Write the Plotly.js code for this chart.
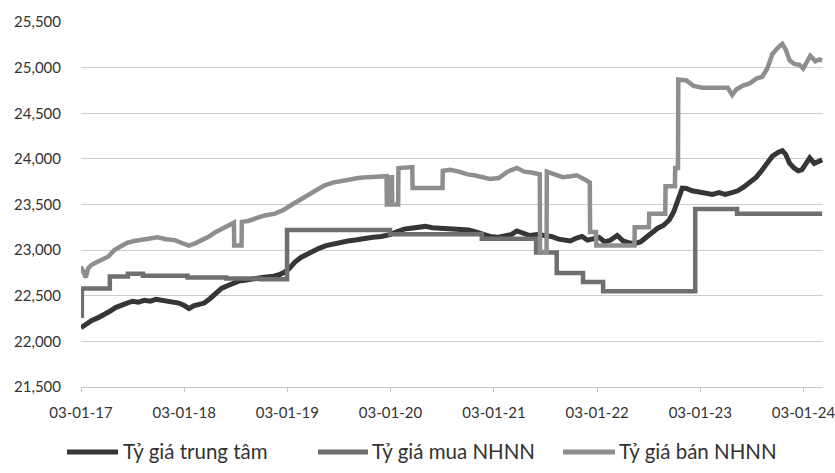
<!DOCTYPE html>
<html>
<head>
<meta charset="utf-8">
<script src="https://cdn.plot.ly/plotly-3.0.1.min.js"></script>
<style>
  html, body { margin: 0; padding: 0; background: #ffffff; }
  #chart { width: 835px; height: 473px; }
</style>
</head>
<body>
<div id="chart"></div>
<script>
// ---- Data ----
const seriesNames = ["Tỷ giá trung tâm", "Tỷ giá mua NHNN", "Tỷ giá bán NHNN"];

const xTickVals = ["2017-01-03", "2018-01-03", "2019-01-03", "2020-01-03", "2021-01-03", "2022-01-03", "2023-01-03", "2024-01-03"];
const xTickText = ["03-01-17", "03-01-18", "03-01-19", "03-01-20", "03-01-21", "03-01-22", "03-01-23", "03-01-24"];

const centralDates = [
  "2017-01-03","2017-01-20","2017-02-10","2017-03-05","2017-03-25","2017-04-15","2017-05-05","2017-05-25",
  "2017-06-15","2017-07-05","2017-07-25","2017-08-15","2017-09-05","2017-09-25","2017-10-15","2017-11-05",
  "2017-11-25","2017-12-15","2018-01-05","2018-01-20","2018-02-05","2018-02-25","2018-03-15","2018-04-05",
  "2018-04-25","2018-05-15","2018-06-05","2018-06-25","2018-07-15","2018-08-05","2018-08-25","2018-09-15",
  "2018-10-05","2018-10-25","2018-11-15","2018-12-05","2018-12-25","2019-01-10","2019-01-30","2019-02-20",
  "2019-03-10","2019-04-01","2019-04-25","2019-05-20","2019-06-15","2019-07-10","2019-08-05","2019-09-01",
  "2019-10-01","2019-11-01","2019-12-01","2020-01-01","2020-01-25","2020-02-20","2020-03-15","2020-04-10",
  "2020-05-05","2020-05-30","2020-06-25","2020-07-20","2020-08-15","2020-09-10","2020-10-05","2020-10-30",
  "2020-11-25","2020-12-20","2021-01-15","2021-02-10","2021-03-05","2021-03-25","2021-04-15","2021-05-10",
  "2021-06-05","2021-06-30","2021-07-25","2021-08-20","2021-09-10","2021-09-30","2021-10-20","2021-11-10",
  "2021-11-30","2021-12-20","2022-01-10","2022-01-30","2022-02-20","2022-03-15","2022-04-05","2022-04-25",
  "2022-05-15","2022-06-05","2022-06-25","2022-07-15","2022-08-05","2022-08-25","2022-09-15","2022-10-01",
  "2022-10-15","2022-10-31","2022-11-15","2022-12-05","2022-12-25","2023-01-20","2023-02-15","2023-03-10",
  "2023-04-01","2023-04-25","2023-05-15","2023-06-05","2023-06-28","2023-07-20","2023-08-05","2023-08-25",
  "2023-09-15","2023-10-05","2023-10-20","2023-11-01","2023-11-15","2023-12-01","2023-12-15","2023-12-28",
  "2024-01-10","2024-01-25","2024-02-10","2024-02-25","2024-03-09"
];
const centralValues = [
  22150,22190,22230,22260,22290,22330,22370,22400,
  22420,22440,22430,22450,22440,22460,22450,22440,
  22435,22420,22390,22360,22390,22400,22420,22470,
  22530,22580,22610,22640,22660,22670,22685,22690,
  22700,22705,22715,22730,22760,22800,22870,22920,
  22950,22990,23020,23050,23070,23080,23100,23110,
  23130,23140,23150,23170,23200,23230,23240,23250,
  23260,23245,23240,23230,23225,23230,23220,23200,
  23170,23150,23140,23150,23170,23210,23190,23160,
  23170,23160,23150,23120,23110,23100,23130,23150,
  23110,23120,23140,23090,23110,23160,23100,23080,
  23070,23090,23140,23200,23240,23270,23330,23420,
  23550,23680,23675,23650,23640,23620,23610,23630,
  23610,23630,23650,23690,23740,23800,23860,23950,
  24030,24070,24090,24050,23950,23900,23870,23880,
  23950,24010,23950,23980,23990
];

const buyDates = [
  "2017-01-03","2017-01-06","2017-04-15","2017-06-18","2017-08-10","2018-01-15","2018-06-01","2018-10-01",
  "2019-01-02","2020-01-01","2020-11-21","2021-06-01","2021-08-13","2021-11-14","2022-01-24","2022-12-16",
  "2023-05-13","2024-03-09"
];
const buyValues = [
  22280,22580,22710,22740,22720,22700,22690,22680,
  23220,23175,23125,22975,22750,22650,22550,23450,
  23400,23400
];

const sellDates = [
  "2017-01-03","2017-01-12","2017-01-20","2017-01-28","2017-02-10","2017-03-01","2017-03-20","2017-04-10",
  "2017-05-01","2017-05-20","2017-06-15","2017-07-10","2017-08-05","2017-09-01","2017-10-01","2017-11-01",
  "2017-12-01","2018-01-01","2018-01-20","2018-02-15","2018-03-10","2018-04-01","2018-04-25","2018-05-18",
  "2018-06-10","2018-06-28","2018-06-29","2018-07-25","2018-07-26","2018-08-17","2018-09-15","2018-10-15",
  "2018-11-20","2018-12-20","2019-01-20","2019-02-17","2019-03-10","2019-04-18","2019-05-15","2019-06-13",
  "2019-07-15","2019-08-12","2019-09-10","2019-10-11","2019-11-10","2019-12-07","2019-12-20","2019-12-21",
  "2019-12-30","2019-12-31","2020-01-08","2020-01-09","2020-01-30","2020-01-31","2020-03-20","2020-03-21",
  "2020-07-05","2020-07-06","2020-08-01","2020-09-01","2020-10-01","2020-10-25","2020-11-20","2020-12-20",
  "2021-01-20","2021-02-20","2021-03-25","2021-04-20","2021-05-15","2021-06-14","2021-06-15","2021-07-08",
  "2021-07-09","2021-08-01","2021-09-03","2021-10-01","2021-10-23","2021-11-28","2021-12-08","2021-12-09",
  "2021-12-30","2021-12-31","2022-05-15","2022-05-16","2022-07-05","2022-07-06","2022-09-01","2022-09-02",
  "2022-10-05","2022-10-06","2022-10-16","2022-10-17","2022-11-15","2022-12-10","2023-01-10","2023-02-10",
  "2023-03-15","2023-04-10","2023-04-26","2023-05-10","2023-06-01","2023-06-28","2023-07-20","2023-08-10",
  "2023-08-28","2023-09-15","2023-10-05","2023-10-20","2023-11-01","2023-11-15","2023-12-01","2023-12-20",
  "2024-01-02","2024-01-15","2024-01-27","2024-02-14","2024-02-28","2024-03-09"
];
const sellValues = [
  22820,22760,22700,22800,22840,22870,22900,22930,
  23000,23040,23080,23100,23110,23120,23140,23120,
  23110,23070,23050,23080,23110,23150,23200,23240,
  23280,23300,23050,23050,23310,23320,23350,23380,
  23400,23440,23500,23550,23600,23660,23710,23740,
  23760,23770,23790,23800,23805,23810,23810,23500,
  23500,23800,23800,23500,23500,23900,23910,23680,
  23680,23870,23880,23860,23830,23820,23800,23780,
  23790,23860,23900,23860,23850,23830,22980,22980,
  23860,23840,23800,23810,23820,23760,23740,23200,
  23200,23050,23050,23250,23250,23400,23400,23700,
  23700,23900,23900,24870,24860,24800,24780,24780,
  24780,24780,24700,24760,24800,24830,24880,24900,
  24990,25150,25220,25260,25200,25080,25040,25030,
  24990,25060,25130,25070,25090,25080
];

const yTickVals = [21500, 22000, 22500, 23000, 23500, 24000, 24500, 25000, 25500];

// ---- Styles ----
const colors = ["#363636", "#6f6f6f", "#8e8e8e"];
const textColor = "#333333";
const fontFamily = "Lato, 'Open Sans', sans-serif";

const W = 835, H = 473;
const margin = { l: 81, r: 12, t: 22, b: 86 };
const plotW = W - margin.l - margin.r;
const plotH = H - margin.t - margin.b;
const toPaperX = px => (px - margin.l) / plotW;
const toPaperY = py => (H - margin.b - py) / plotH;

const traces = [
  { type: "scatter", mode: "lines", name: seriesNames[0], x: centralDates, y: centralValues,
    line: { color: colors[0], width: 5 } },
  { type: "scatter", mode: "lines", name: seriesNames[1], x: buyDates, y: buyValues,
    line: { color: colors[1], width: 4.5, shape: "hv" } },
  { type: "scatter", mode: "lines", name: seriesNames[2], x: sellDates, y: sellValues,
    line: { color: colors[2], width: 4.5 } }
];

// custom legend (line swatch + label), laid out like the reference
const legendY = 452;
const legendItems = [
  { x0: 67, x1: 118, tx: 122 },
  { x0: 318, x1: 368, tx: 371 },
  { x0: 563, x1: 615, tx: 618 }
];
const shapes = legendItems.map((it, i) => ({
  type: "line", xref: "paper", yref: "paper",
  x0: toPaperX(it.x0), x1: toPaperX(it.x1),
  y0: toPaperY(legendY), y1: toPaperY(legendY),
  line: { color: colors[i], width: 5 }
}));
const annotations = legendItems.map((it, i) => ({
  xref: "paper", yref: "paper",
  x: toPaperX(it.tx), y: toPaperY(legendY - 1),
  xanchor: "left", yanchor: "middle",
  text: seriesNames[i], showarrow: false,
  font: { family: fontFamily, size: 20.5, color: textColor },
  borderpad: 0
}));

const layout = {
  width: W, height: H,
  margin: margin,
  paper_bgcolor: "#ffffff",
  plot_bgcolor: "#ffffff",
  font: { family: fontFamily, color: textColor, size: 15 },
  showlegend: false,
  shapes: shapes,
  annotations: annotations,
  xaxis: {
    type: "date",
    range: ["2017-01-03", "2024-03-12"],
    tickmode: "array",
    tickvals: xTickVals,
    ticktext: xTickText,
    showgrid: false,
    zeroline: false,
    showline: true,
    linecolor: "#c9c9c9",
    linewidth: 1,
    ticks: "outside",
    ticklen: 4,
    tickcolor: "#c9c9c9",
    ticklabelstandoff: 8,
    ticklabeloverflow: "allow",
    tickfont: { family: fontFamily, size: 15, color: textColor },
    fixedrange: true
  },
  yaxis: {
    range: [21500, 25500],
    tickmode: "array",
    tickvals: yTickVals,
    tickformat: ",",
    showgrid: true,
    gridcolor: "#cdcdcd",
    gridwidth: 1,
    zeroline: false,
    showline: false,
    ticks: "",
    ticklabelstandoff: 19,
    tickfont: { family: fontFamily, size: 15, color: textColor },
    fixedrange: true
  }
};

Plotly.newPlot("chart", traces, layout, { displayModeBar: false, staticPlot: true });
</script>
</body>
</html>
